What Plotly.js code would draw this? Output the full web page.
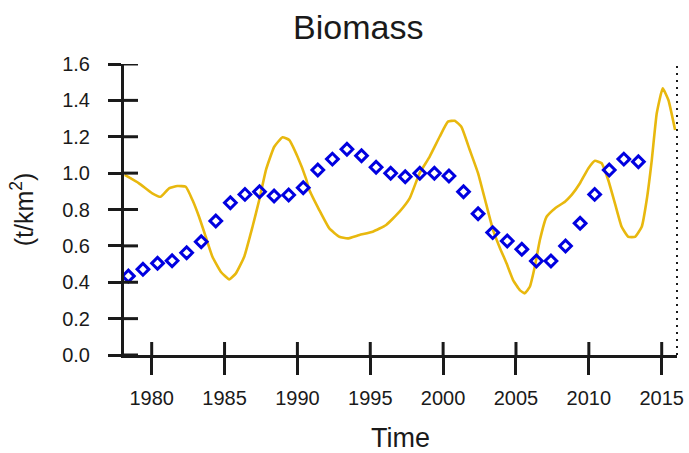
<!DOCTYPE html>
<html>
<head>
<meta charset="utf-8">
<script src="https://cdn.plot.ly/plotly-3.0.1.min.js"></script>
<style>html,body{margin:0;padding:0;background:#fff;}#chart{width:689px;height:453px;}</style>
</head>
<body>
<div id="chart"></div>
<script>
// Observed biomass (annual points, blue diamonds)
const obsYears = [1978,1979,1980,1981,1982,1983,1984,1985,1986,1987,1988,1989,1990,1991,1992,1993,1994,1995,1996,1997,1998,1999,2000,2001,2002,2003,2004,2005,2006,2007,2008,2009,2010,2011,2012,2013];
const obsBiomass = [0.434,0.471,0.504,0.518,0.562,0.623,0.737,0.837,0.883,0.898,0.874,0.880,0.920,1.017,1.077,1.131,1.096,1.032,0.999,0.980,0.999,0.999,0.984,0.898,0.777,0.673,0.627,0.581,0.517,0.517,0.599,0.724,0.883,1.017,1.077,1.063];
const obsOffset = 0.4; // points drawn within the year

// Model biomass (yellow line)
const modelTime = [1978.15,1979.13,1980.04,1980.62,1981.19,1981.76,1982.34,1982.80,1983.25,1983.71,1984.17,1984.74,1985.32,1985.78,1986.35,1986.92,1987.38,1987.84,1988.41,1988.98,1989.44,1990.01,1990.59,1990.82,1991.50,1992.19,1992.88,1993.45,1994.26,1995.17,1996.09,1997.01,1997.70,1998.38,1999.07,1999.76,2000.33,2000.80,2001.25,2001.83,2002.40,2002.97,2003.43,2003.89,2004.35,2004.80,2005.26,2005.60,2005.95,2006.29,2006.64,2007.10,2007.67,2008.36,2008.82,2009.39,2009.96,2010.42,2010.88,2011.33,2011.79,2012.25,2012.71,2013.17,2013.63,2013.97,2014.32,2014.66,2015.07,2015.46,2015.92];
const modelBiomass = [0.990,0.944,0.889,0.870,0.916,0.929,0.925,0.852,0.760,0.650,0.540,0.458,0.416,0.449,0.540,0.705,0.852,1.017,1.145,1.197,1.182,1.090,0.970,0.907,0.797,0.696,0.650,0.641,0.660,0.678,0.715,0.788,0.861,0.999,1.090,1.200,1.283,1.288,1.255,1.127,0.999,0.825,0.687,0.590,0.504,0.412,0.357,0.339,0.375,0.485,0.632,0.760,0.806,0.843,0.880,0.944,1.026,1.068,1.054,0.962,0.834,0.705,0.650,0.650,0.705,0.852,1.072,1.329,1.466,1.402,1.237];

// Axis tick positions and labels
const xTickVals = [1980,1985,1990,1995,2000,2005,2010,2015];
const xTickText = ['1980','1985','1990','1995','2000','2005','2010','2015'];
const yTickVals = [0,0.2,0.4,0.6,0.8,1.0,1.2,1.4,1.6];
const yTickText = ['0.0','0.2','0.4','0.6','0.8','1.0','1.2','1.4','1.6'];

const xRange = [1978.1, 2016.05];
const yRange = [0, 1.6];
const fontFam = '"Liberation Sans", Arial, sans-serif';
const ink = '#1a1a1a';

const traces = [
  {
    x: modelTime, y: modelBiomass, type: 'scatter', mode: 'lines',
    line: {color: '#e8b80e', width: 2.6, shape: 'spline', smoothing: 0.4},
    hoverinfo: 'skip', showlegend: false
  },
  {
    x: obsYears.map(v => v + obsOffset), y: obsBiomass, type: 'scatter', mode: 'markers',
    marker: {symbol: 'diamond-open', size: 9, color: '#0000e0', line: {width: 3, color: '#0000e0'}},
    showlegend: false
  }
];

const baseAxis = {
  showgrid: false, zeroline: false, tickwidth: 3, tickcolor: ink,
  tickfont: {family: fontFam, size: 20, color: ink}
};

// inner half of the crossing tick marks (axis decoration)
const innerTicks = [];
xTickVals.forEach(v => innerTicks.push({
  type: 'line', xref: 'x', x0: v, x1: v, yref: 'paper', ysizemode: 'pixel', yanchor: 0, y0: 0, y1: 13,
  line: {color: ink, width: 3}
}));
yTickVals.forEach(v => innerTicks.push({
  type: 'line', yref: 'y', y0: v, y1: v, xref: 'paper', xsizemode: 'pixel', xanchor: 0, x0: -1, x1: 14,
  line: {color: ink, width: 3}
}));

const layout = {
  width: 689, height: 453,
  margin: {l: 124, r: 12, t: 64, b: 98},
  paper_bgcolor: '#ffffff', plot_bgcolor: '#ffffff',
  font: {family: fontFam, color: ink},
  title: {
    text: 'Biomass', font: {family: fontFam, size: 34, color: ink},
    x: 0.52, xref: 'container', xanchor: 'center',
    y: 0.94, yref: 'container', yanchor: 'middle'
  },
  xaxis: Object.assign({}, baseAxis, {
    range: xRange, tickmode: 'array', tickvals: xTickVals, ticktext: xTickText,
    ticks: 'outside', ticklen: 17,
    showline: true, linewidth: 3, linecolor: ink,
    ticklabelstandoff: 6,
    title: {text: 'Time', font: {family: fontFam, size: 27, color: ink}, standoff: 22}
  }),
  yaxis: Object.assign({}, baseAxis, {
    range: yRange, tickmode: 'array', tickvals: yTickVals, ticktext: yTickText,
    ticks: 'outside', ticklen: 13,
    showline: true, linewidth: 3, linecolor: ink,
    ticklabelstandoff: 14,
    title: {text: '(t/km<sup>2</sup>)', font: {family: fontFam, size: 25, color: ink}, standoff: 22}
  }),
  shapes: innerTicks.concat([{
    type: 'line', xref: 'paper', yref: 'paper', x0: 1, x1: 1, y0: 0, y1: 1,
    line: {color: ink, width: 2, dash: '2px,5px'}
  }])
};

Plotly.newPlot('chart', traces, layout, {staticPlot: true, displayModeBar: false});
</script>
</body>
</html>
